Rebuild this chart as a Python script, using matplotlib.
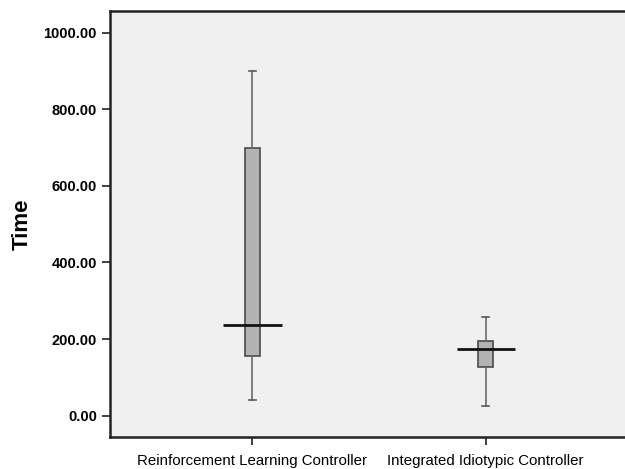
import matplotlib
matplotlib.use("Agg")
import matplotlib.pyplot as plt
from matplotlib.ticker import FormatStrFormatter

# box summary values
groups = ["Reinforcement Learning Controller", "Integrated Idiotypic Controller"]
whisker_low = [41, 26]
q1 = [156, 128]
medians = [236, 173]
q3 = [700, 196]
whisker_high = [900, 258]
yticks = [0, 200, 400, 600, 800, 1000]

fig = plt.figure(figsize=(6.25, 4.69), dpi=100)
ax = fig.add_axes([110 / 625, 1 - 437 / 469, 518 / 625, 426 / 469])
ax.set_facecolor("#f0f0f0")

stats = []
for i in range(len(groups)):
    stats.append({"whislo": whisker_low[i], "q1": q1[i], "med": medians[i],
                  "q3": q3[i], "whishi": whisker_high[i], "fliers": []})

pos = list(range(len(groups)))
ax.bxp(stats, positions=pos, widths=0.064, patch_artist=True, showfliers=False,
       boxprops=dict(facecolor="#b3b3b3", edgecolor="#4a4a4a", linewidth=1.2),
       whiskerprops=dict(color="#6a6a6a", linewidth=1.2),
       capprops=dict(color="#5a5a5a", linewidth=1.2),
       medianprops=dict(linewidth=0))
# median bars stick out past the boxes
for p, m in zip(pos, medians):
    ax.hlines(m, p - 0.125, p + 0.125, color="#111111", linewidth=2, zorder=5)

ax.set_xlim(-0.61, 1.61)
ax.set_ylim(-56, 1057)
ax.set_yticks(yticks)
ax.yaxis.set_major_formatter(FormatStrFormatter("%.2f"))
ax.set_xticks(pos)
ax.set_xticklabels(groups, family=["Liberation Sans", "DejaVu Sans"],
                   fontsize=10.8)
for lab in ax.get_yticklabels():
    lab.set_fontweight("bold")
    lab.set_fontsize(10.5)
    lab.set_family(["Liberation Sans", "DejaVu Sans"])

for s in ax.spines.values():
    s.set_linewidth(1.8)
    s.set_color("#222222")
ax.tick_params(axis="both", direction="out", length=6, width=1.2, color="#222222")
ax.tick_params(axis="x", pad=6)
ax.set_ylabel("Time", fontsize=16, fontweight="bold",
              family=["Liberation Sans", "DejaVu Sans"], labelpad=8)

fig.savefig("out.png", dpi=100)
